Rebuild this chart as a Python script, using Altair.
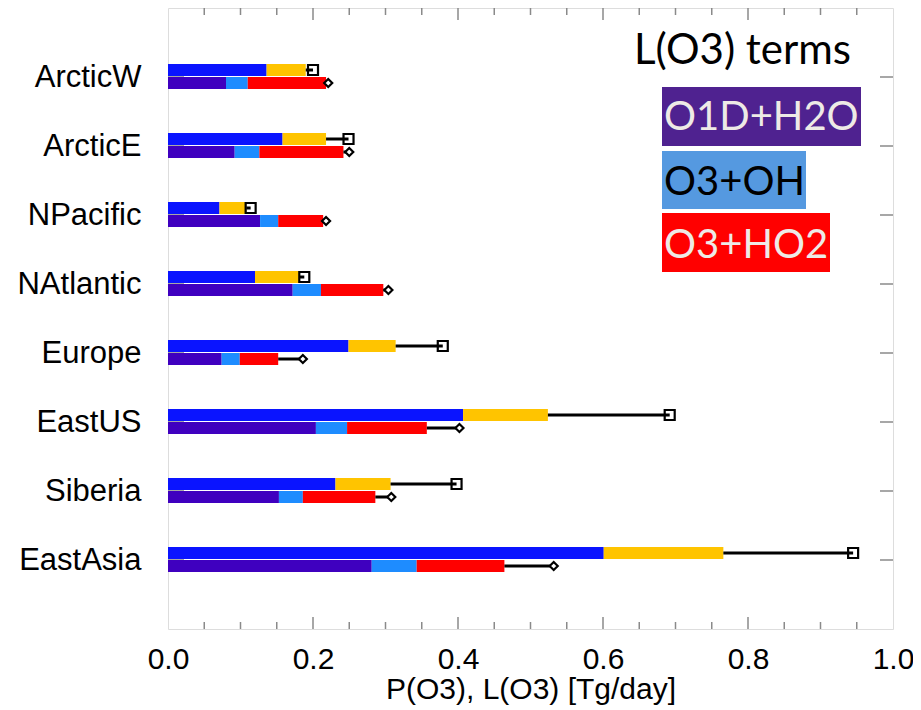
import altair as alt
import pandas as pd

regions = ["ArcticW", "ArcticE", "NPacific", "NAtlantic", "Europe", "EastUS", "Siberia", "EastAsia"]

# P(O3) production: cumulative ends of the two stacked segments and the total (square)
p_blue_end = [0.136, 0.158, 0.071, 0.120, 0.249, 0.407, 0.231, 0.601]
p_yellow_end = [0.190, 0.218, 0.108, 0.182, 0.314, 0.524, 0.307, 0.766]
p_total = [0.200, 0.249, 0.114, 0.188, 0.379, 0.692, 0.398, 0.945]

# L(O3) loss terms: cumulative ends and total (diamond)
l_o1d_end = [0.080, 0.092, 0.127, 0.172, 0.074, 0.204, 0.153, 0.281]
l_oh_end = [0.110, 0.126, 0.152, 0.211, 0.099, 0.247, 0.186, 0.343]
l_ho2_end = [0.218, 0.242, 0.214, 0.297, 0.152, 0.357, 0.286, 0.464]
l_total = [0.221, 0.250, 0.218, 0.304, 0.186, 0.402, 0.308, 0.532]

x_labels = [0.0, 0.2, 0.4, 0.6, 0.8, 1.0]
minor_ticks = [0.05, 0.1, 0.15, 0.25, 0.3, 0.35, 0.45, 0.5, 0.55, 0.65, 0.7, 0.75, 0.85, 0.9, 0.95]
major_ticks = [0.2, 0.4, 0.6, 0.8]

terms = ["P1", "P2", "O1D+H2O", "O3+OH", "O3+HO2"]
term_colors = ["#0A14FF", "#FFC400", "#3F00BF", "#1E8CFF", "#FF0000"]

legend_title = "L(O3) terms"
legend_items = ["O1D+H2O", "O3+OH", "O3+HO2"]
legend_bg = ["#4F2290", "#5599E0", "#FF0000"]
legend_fg = ["#EEEAE6", "#000000", "#EEEAE6"]

# ---- tables ----
seg_rows = []
tot_rows = []
for i, r in enumerate(regions):
    seg_rows += [
        dict(region=r, grp="P", term="P1", x0=0.0, x1=p_blue_end[i]),
        dict(region=r, grp="P", term="P2", x0=p_blue_end[i], x1=p_yellow_end[i]),
        dict(region=r, grp="L", term="O1D+H2O", x0=0.0, x1=l_o1d_end[i]),
        dict(region=r, grp="L", term="O3+OH", x0=l_o1d_end[i], x1=l_oh_end[i]),
        dict(region=r, grp="L", term="O3+HO2", x0=l_oh_end[i], x1=l_ho2_end[i]),
    ]
    tot_rows.append(dict(region=r, p_end=p_yellow_end[i], p_tot=p_total[i],
                         l_end=l_ho2_end[i], l_tot=l_total[i]))
seg = pd.DataFrame(seg_rows)
tot = pd.DataFrame(tot_rows)
reg_df = pd.DataFrame({"region": regions})
minor_df = pd.DataFrame({"v": minor_ticks})
major_df = pd.DataFrame({"v": major_ticks})

W, H = 725, 621
FONT = "Liberation Sans"
FS = 30
P_OFF, L_OFF = -7, 6

xs = alt.Scale(domain=[0, 1], nice=False, zero=False)
ys = alt.Scale(type="point", padding=1, domain=regions)

x_enc = alt.X("x0:Q", scale=xs, axis=alt.Axis(
    values=x_labels, format=".1f", tickSize=0, domain=False, grid=False,
    labelFontSize=FS, labelFont=FONT, labelColor="black", labelPadding=15,
    labelFlush=False, labelOverlap=False,
    title="P(O3), L(O3) [Tg/day]", titleFont=FONT, titleFontSize=FS,
    titleFontWeight="normal", titleColor="black", titleY=69, titleBaseline="alphabetic"))
y_enc = alt.Y("region:N", scale=ys, sort=regions, axis=alt.Axis(
    tickSize=0, domain=False, grid=False, labelFontSize=31, labelFont=FONT,
    labelColor="black", labelPadding=27, title=None))

color = alt.Color("term:N", scale=alt.Scale(domain=terms, range=term_colors), legend=None)

base = alt.Chart(seg)
p_bars = base.transform_filter(alt.datum.grp == "P").mark_bar(height=12, yOffset=P_OFF).encode(
    x=x_enc, x2="x1:Q", y=y_enc, color=color)
l_bars = base.transform_filter(alt.datum.grp == "L").mark_bar(height=12, yOffset=L_OFF).encode(
    x=alt.X("x0:Q", scale=xs), x2="x1:Q", y=alt.Y("region:N", scale=ys, sort=regions), color=color)

tb = alt.Chart(tot)
yy = alt.Y("region:N", scale=ys, sort=regions)
p_line = tb.mark_rule(color="black", strokeWidth=3, yOffset=P_OFF).encode(
    x=alt.X("p_end:Q", scale=xs), x2="p_tot:Q", y=yy)
l_line = tb.mark_rule(color="black", strokeWidth=3, yOffset=L_OFF).encode(
    x=alt.X("l_end:Q", scale=xs), x2="l_tot:Q", y=yy)
p_sq = tb.mark_point(shape="square", filled=False, color="black", strokeWidth=2.2,
                     size=100, opacity=1, yOffset=P_OFF).encode(
    x=alt.X("p_tot:Q", scale=xs), y=yy)
l_dm = tb.mark_point(shape="diamond", filled=True, fill="white", stroke="black",
                     strokeWidth=2.2, size=65, opacity=1, yOffset=L_OFF).encode(
    x=alt.X("l_tot:Q", scale=xs), y=yy)

TICK = "#8a8a8a"
left_ticks = alt.Chart(reg_df).mark_rule(color=TICK, strokeWidth=1.5).encode(
    y=yy, x=alt.value(0), x2=alt.value(16))
right_ticks = alt.Chart(reg_df).mark_rule(color=TICK, strokeWidth=1.5).encode(
    y=yy, x=alt.value(W - 13), x2=alt.value(W))

def xticks(df, length):
    bot = alt.Chart(df).mark_rule(color=TICK, strokeWidth=1.5).encode(
        x=alt.X("v:Q", scale=xs), y=alt.value(H), y2=alt.value(H - length))
    top = alt.Chart(df).mark_rule(color=TICK, strokeWidth=1.5).encode(
        x=alt.X("v:Q", scale=xs), y=alt.value(0), y2=alt.value(length))
    return bot + top

ticks = xticks(minor_df, 7) + xticks(major_df, 12)

# ---- legend (text boxes in the upper right) ----
LFONT = "Lato"
leg_layers = [
    alt.Chart(pd.DataFrame({"t": [legend_title]})).mark_text(
        font=LFONT, fontSize=42, align="left", baseline="alphabetic", color="black").encode(
        text="t:N", x=alt.value(466), y=alt.value(56))
]
box_y = [(79, 138), (143, 201), (205, 264)]
box_x2 = [693, 638, 662]
base_y = [122, 187, 250]
for i, lab in enumerate(legend_items):
    df = pd.DataFrame({"t": [lab]})
    leg_layers.append(alt.Chart(df).mark_rect(color=legend_bg[i]).encode(
        x=alt.value(494), x2=alt.value(box_x2[i]),
        y=alt.value(box_y[i][0]), y2=alt.value(box_y[i][1])))
    leg_layers.append(alt.Chart(df).mark_text(
        font=LFONT, fontSize=40, align="left", baseline="alphabetic", color=legend_fg[i]).encode(
        text="t:N", x=alt.value(496), y=alt.value(base_y[i])))

chart = alt.layer(
    left_ticks, right_ticks, ticks, p_bars, l_bars, p_line, l_line, p_sq, l_dm, *leg_layers
).properties(
    width=W, height=H,
    autosize=alt.AutoSizeParams(type="none"),
    padding={"left": 160, "top": 0, "right": 20, "bottom": 79},
).configure_view(stroke="#8a8a8a", strokeWidth=1.5).configure(background="white")

chart.save("out.html", embed_options={"renderer": "svg", "actions": False})
